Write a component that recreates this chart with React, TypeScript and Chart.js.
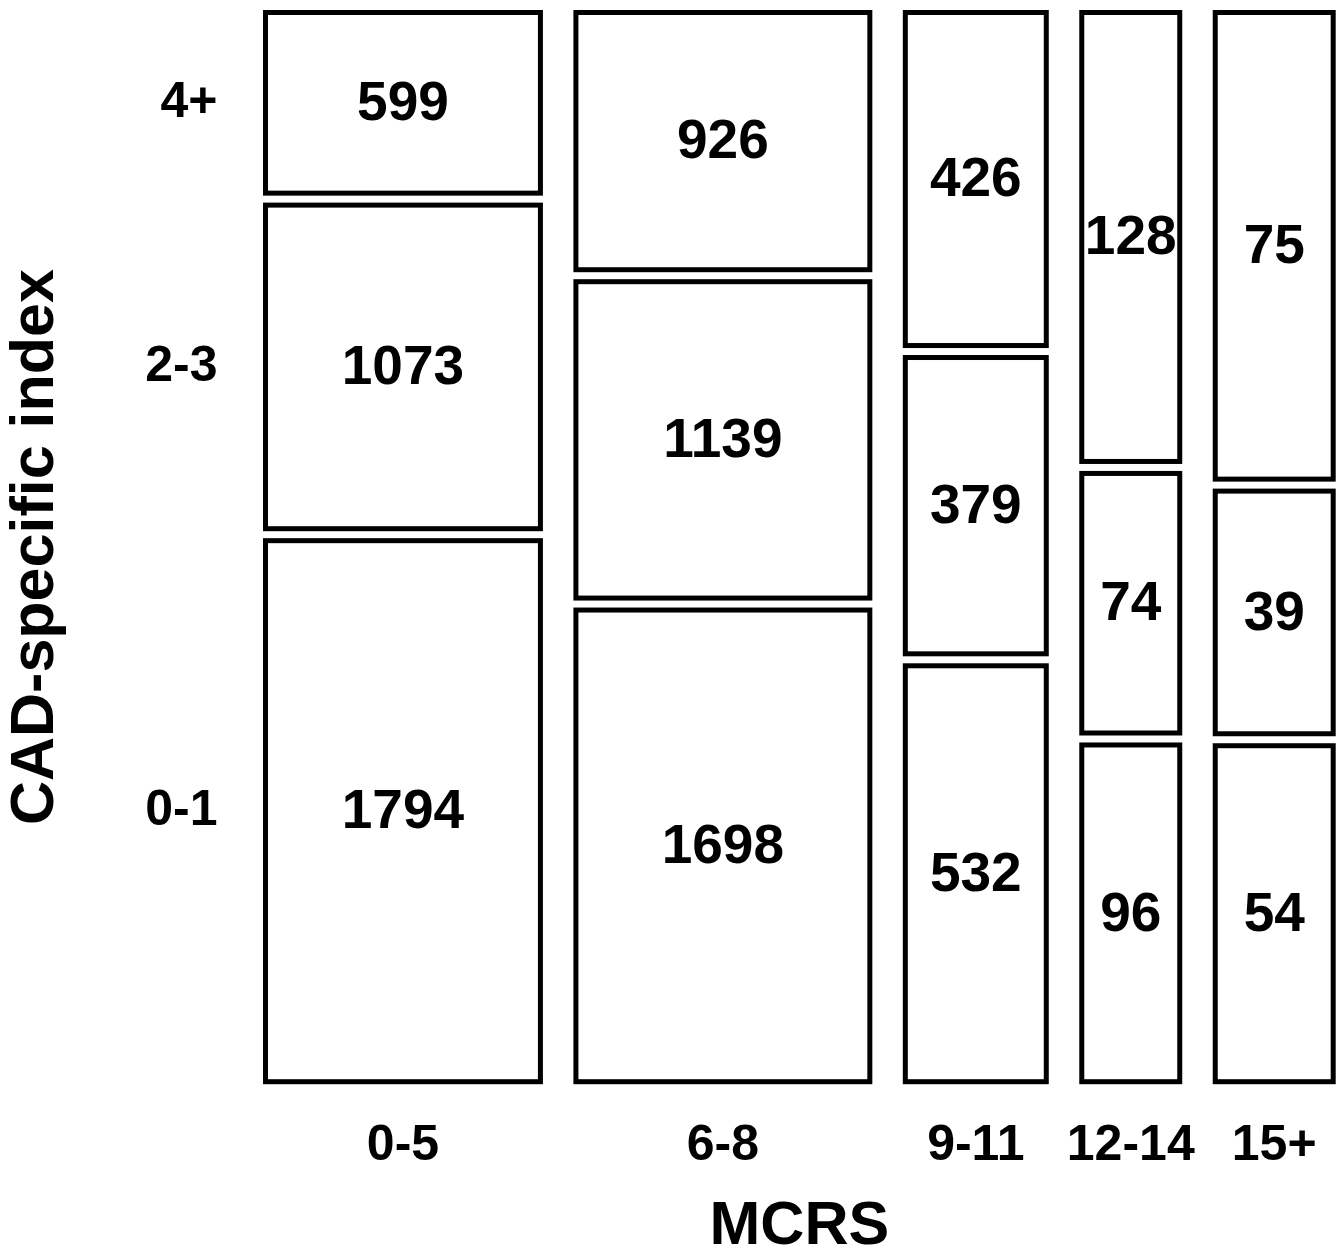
import React, { useEffect, useRef } from 'react';
import { Chart, registerables } from 'chart.js';

Chart.register(...registerables);

// ---- data ----
const mcrsCategories = ['0-5', '6-8', '9-11', '12-14', '15+'];
const indexCategories = ['0-1', '2-3', '4+']; // bottom -> top
const counts0to1 = [1794, 1698, 532, 96, 54];
const counts2to3 = [1073, 1139, 379, 74, 39];
const counts4plus = [599, 926, 426, 128, 75];
const columnWidths = [275, 294, 141, 98, 118]; // relative column widths

const COL_GAP = 35.5;
const ROW_GAP = 0.0112;
const FONT = '"Liberation Sans", Arial, Helvetica, sans-serif';

type Cell = { x0: number; x1: number; y0: number; y1: number; value: number; col: number; row: number };

function buildCells(): Cell[] {
  const rows = [counts0to1, counts2to3, counts4plus];
  const cells: Cell[] = [];
  let x = 0;
  mcrsCategories.forEach((_, c) => {
    const total = rows.reduce((s, r) => s + r[c], 0);
    const avail = 1 - ROW_GAP * (rows.length - 1);
    let y = 0;
    rows.forEach((r, k) => {
      const h = (r[c] / total) * avail;
      cells.push({ x0: x, x1: x + columnWidths[c], y0: y, y1: y + h, value: r[c], col: c, row: k });
      y += h + ROW_GAP;
    });
    x += columnWidths[c] + COL_GAP;
  });
  return cells;
}

const cells = buildCells();
const xMax = columnWidths.reduce((s, w) => s + w, 0) + COL_GAP * (columnWidths.length - 1);
const colCenters = mcrsCategories.map((_, c) => {
  const cell = cells.find((k) => k.col === c)!;
  return (cell.x0 + cell.x1) / 2;
});
const rowCenters = indexCategories.map((_, r) => {
  const cell = cells.find((k) => k.col === 0 && k.row === r)!;
  return (cell.y0 + cell.y1) / 2;
});

const mosaicPlugin = {
  id: 'mosaic',
  afterDatasetsDraw(chart: any) {
    const { ctx } = chart;
    const xs = chart.scales.x;
    const ys = chart.scales.y;
    ctx.save();
    ctx.lineWidth = 5;
    ctx.lineJoin = 'miter';
    ctx.strokeStyle = '#000';
    ctx.fillStyle = '#000';
    ctx.font = `bold 55px ${FONT}`;
    ctx.textAlign = 'center';
    ctx.textBaseline = 'middle';
    cells.forEach((cell) => {
      const px0 = xs.getPixelForValue(cell.x0);
      const px1 = xs.getPixelForValue(cell.x1);
      const py0 = ys.getPixelForValue(cell.y0);
      const py1 = ys.getPixelForValue(cell.y1);
      ctx.strokeRect(px0, py1, px1 - px0, py0 - py1);
      ctx.fillText(String(cell.value), (px0 + px1) / 2, (py0 + py1) / 2 + 2);
    });
    ctx.restore();
  },
};

const zeroPadding = (scale: any) => {
  scale.paddingLeft = 0;
  scale.paddingRight = 0;
  scale.paddingTop = 0;
  scale.paddingBottom = 0;
};

export default function App() {
  const ref = useRef<HTMLCanvasElement | null>(null);
  useEffect(() => {
    if (!ref.current) return;
    const chart = new Chart(ref.current, {
      type: 'scatter',
      data: { datasets: [] },
      plugins: [mosaicPlugin],
      options: {
        animation: false,
        responsive: true,
        maintainAspectRatio: false,
        layout: { padding: { top: 12.5, right: 8.8, left: 0, bottom: 0 } },
        plugins: { legend: { display: false }, tooltip: { enabled: false } },
        scales: {
          x: {
            type: 'linear',
            min: 0,
            max: xMax,
            grid: { display: false, drawTicks: false },
            border: { display: false },
            afterBuildTicks: (scale: any) => {
              scale.ticks = colCenters.map((v) => ({ value: v }));
            },
            afterFit: (scale: any) => {
              scale.height = 175.3;
              zeroPadding(scale);
            },
            ticks: {
              autoSkip: false,
              maxRotation: 0,
              padding: 35,
              color: '#000',
              font: { family: FONT, size: 50, weight: 'bold' },
              callback: (_v: any, i: number) => mcrsCategories[i],
            },
            title: {
              display: true,
              text: 'MCRS',
              color: '#000',
              padding: 0,
              font: { family: FONT, size: 61, weight: 'bold', lineHeight: 0.97 },
            },
          },
          y: {
            type: 'linear',
            min: 0,
            max: 1,
            grid: { display: false, drawTicks: false },
            border: { display: false },
            afterBuildTicks: (scale: any) => {
              scale.ticks = rowCenters.map((v) => ({ value: v }));
            },
            afterFit: (scale: any) => {
              scale.width = 265.5;
              zeroPadding(scale);
            },
            ticks: {
              autoSkip: false,
              padding: 48,
              color: '#000',
              font: { family: FONT, size: 50, weight: 'bold' },
              callback: (_v: any, i: number) => indexCategories[i],
            },
            title: {
              display: true,
              text: 'CAD-specific index',
              color: '#000',
              padding: 0,
              font: { family: FONT, size: 61, weight: 'bold', lineHeight: 1.17 },
            },
          },
        },
      } as any,
    });
    return () => chart.destroy();
  }, []);
  return (
    <div style={{ position: 'absolute', left: 0, top: 0, width: 1342, height: 1257, background: '#fff' }}>
      <canvas ref={ref} />
    </div>
  );
}
